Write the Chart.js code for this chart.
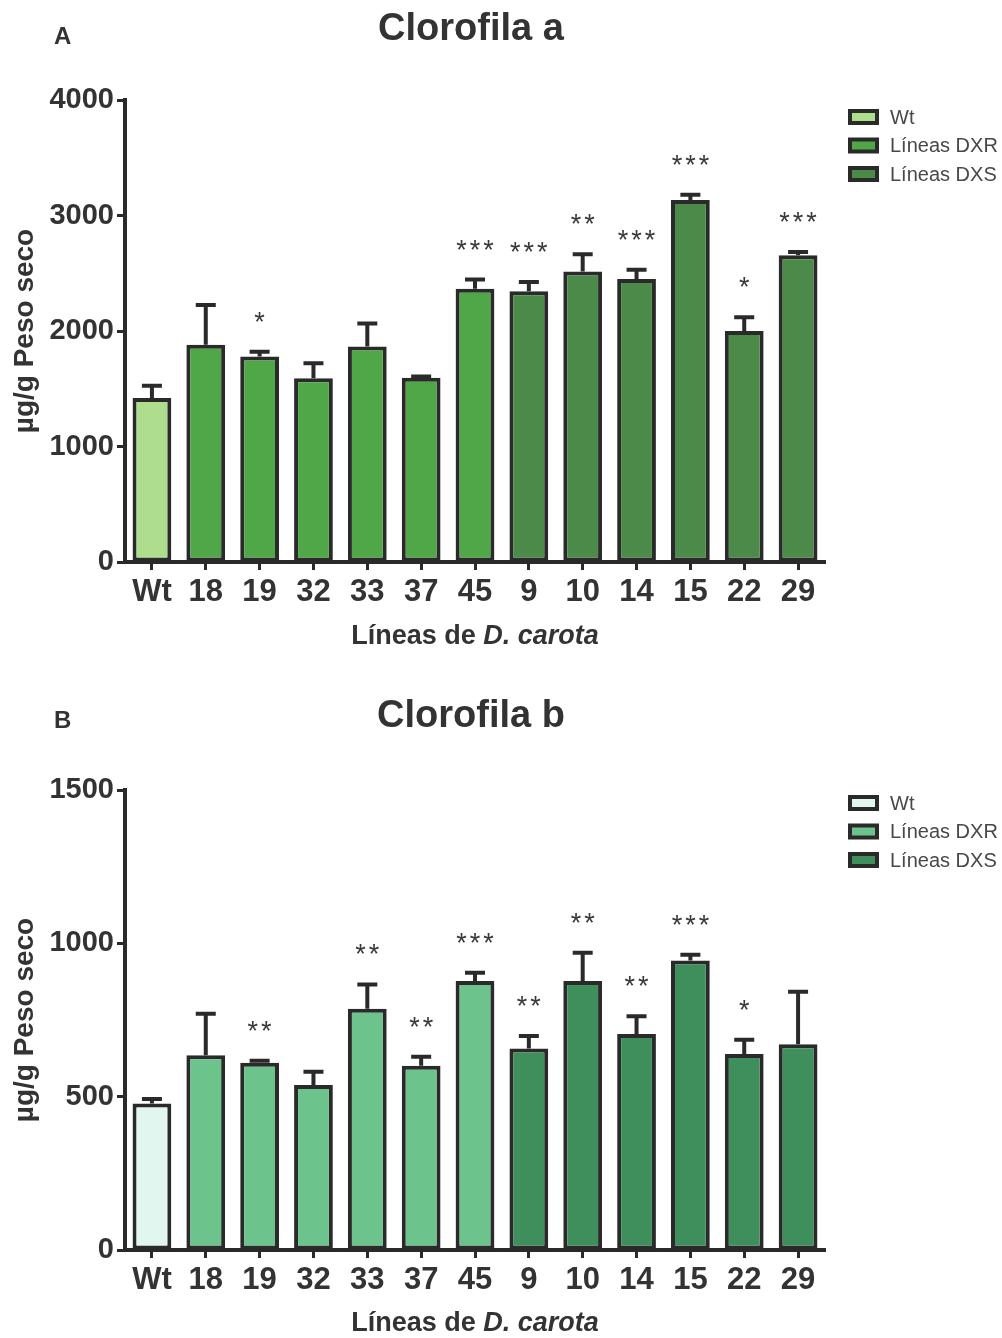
<!DOCTYPE html>
<html>
<head>
<meta charset="utf-8">
<script src="https://cdn.jsdelivr.net/npm/chart.js@4.4.1/dist/chart.umd.min.js"></script>
<style>
  body { margin: 0; background: #fff; }
  .panel { position: absolute; left: 0; width: 1002px; height: 669px; }
</style>
</head>
<body>
<div class="panel" style="top:0"><canvas id="chartA" width="1002" height="669"></canvas></div>
<div class="panel" style="top:669px"><canvas id="chartB" width="1002" height="669"></canvas></div>
<script>
// categories and groups
const lineas = ['Wt', '18', '19', '32', '33', '37', '45', '9', '10', '14', '15', '22', '29'];
const grupoDeLinea = [0, 1, 1, 1, 1, 1, 1, 2, 2, 2, 2, 2, 2];
const grupos = ['Wt', 'Líneas DXR', 'Líneas DXS'];

// Clorofila a (µg/g peso seco), mean + SEM
const clorofilaA = [1420, 1880, 1780, 1590, 1865, 1595, 2365, 2345, 2515, 2450, 3135, 2000, 2655];
const clorofilaAErr = [105, 345, 40, 130, 200, 10, 80, 80, 150, 80, 45, 120, 30];
const clorofilaASig = ['', '', '*', '', '', '', '***', '***', '**', '***', '***', '*', '***'];
const ticksA = [0, 1000, 2000, 3000, 4000];

// Clorofila b
const clorofilaB = [478, 635, 611, 538, 787, 601, 877, 657, 877, 704, 944, 639, 671];
const clorofilaBErr = [14, 135, 6, 43, 79, 29, 27, 41, 92, 58, 19, 47, 171];
const clorofilaBSig = ['', '', '**', '', '**', '**', '***', '**', '**', '**', '***', '*', ''];
const ticksB = [0, 500, 1000, 1500];

const coloresA = ['#aedd8d', '#50a748', '#4b8a49'];
const coloresB = ['#e2f6f0', '#6cc38b', '#3f8f5d'];

const INK = '#2a2a2a';
const TEXT = '#333333';
const FONT = '"Liberation Sans", Arial, sans-serif';

// error bars, asterisks, title, legend, axis title
const extrasPlugin = {
  id: 'extras',
  afterDatasetsDraw(chart, args, opts) {
    const ctx = chart.ctx;
    const xs = chart.scales.x, ys = chart.scales.y;
    ctx.save();
    for (let i = 0; i < opts.values.length; i++) {
      const x = xs.getPixelForValue(i);
      const y0 = ys.getPixelForValue(opts.values[i]);
      const y1 = ys.getPixelForValue(opts.values[i] + opts.err[i]);
      ctx.strokeStyle = INK;
      ctx.lineWidth = 4;
      ctx.beginPath();
      ctx.moveTo(x, y0);
      ctx.lineTo(x, y1);
      ctx.moveTo(x - 10, y1);
      ctx.lineTo(x + 10, y1);
      ctx.stroke();
      const n = opts.sig[i].length;
      ctx.fillStyle = '#3a3a3a';
      ctx.font = '27px ' + FONT;
      ctx.textAlign = 'center';
      ctx.textBaseline = 'alphabetic';
      for (let j = 0; j < n; j++) {
        ctx.fillText('*', x + (j - (n - 1) / 2) * 13.5, y1 - 37 + 16);
      }
    }
    ctx.restore();
  },
  afterDraw(chart, args, opts) {
    const ctx = chart.ctx;
    const area = chart.chartArea;
    ctx.save();
    ctx.fillStyle = TEXT;
    ctx.textBaseline = 'middle';
    // panel letter
    ctx.textAlign = 'left';
    ctx.font = 'bold 24px ' + FONT;
    ctx.fillText(opts.letter, 54, opts.letterY);
    // title
    ctx.textAlign = 'center';
    ctx.font = 'bold 38px ' + FONT;
    ctx.fillText(opts.title, 471, opts.titleY);
    // x axis title with italic species name
    const p1 = 'Líneas de ', p2 = 'D. carota';
    ctx.font = 'bold 27px ' + FONT;
    const w1 = ctx.measureText(p1).width;
    ctx.font = 'italic bold 27px ' + FONT;
    const w2 = ctx.measureText(p2).width;
    const cx = (area.left + area.right) / 2;
    let sx = cx - (w1 + w2) / 2;
    ctx.textAlign = 'left';
    ctx.font = 'bold 27px ' + FONT;
    ctx.fillText(p1, sx, opts.xTitleY);
    ctx.font = 'italic bold 27px ' + FONT;
    ctx.fillText(p2, sx + w1, opts.xTitleY);
    // legend
    ctx.font = '20px ' + FONT;
    chart.data.datasets.forEach((ds, k) => {
      const y = opts.legendY + k * 28.5;
      ctx.fillStyle = INK;
      ctx.fillRect(848, y - 8, 31, 16);
      ctx.fillStyle = ds.backgroundColor;
      ctx.fillRect(852, y - 4, 23, 8);
      ctx.fillStyle = '#484848';
      ctx.fillText(ds.label, 890, y + 1);
    });
    ctx.restore();
  }
};

function makeDatasets(values, colores) {
  return grupos.map((g, k) => ({
    label: g,
    data: values.map((v, i) => (grupoDeLinea[i] === k ? v : null)),
    backgroundColor: colores[k],
    borderColor: INK,
    borderWidth: 4,
    borderSkipped: false,
    barPercentage: 0.72,
    categoryPercentage: 1.0,
    grouped: false
  }));
}

function makeChart(id, values, err, sig, ticks, colores, lay) {
  return new Chart(document.getElementById(id), {
    type: 'bar',
    data: { labels: lineas, datasets: makeDatasets(values, colores) },
    plugins: [extrasPlugin],
    options: {
      responsive: false,
      animation: false,
      layout: { padding: { left: 0, right: 177, top: lay.top, bottom: 0 } },
      plugins: {
        legend: { display: false },
        tooltip: { enabled: false },
        extras: {
          values: values, err: err, sig: sig,
          letter: lay.letter, letterY: lay.letterY,
          title: lay.title, titleY: lay.titleY,
          xTitleY: lay.xTitleY, legendY: lay.legendY
        }
      },
      scales: {
        x: {
          afterFit(scale) { scale.height = lay.xHeight; },
          grid: { offset: false, drawOnChartArea: false, drawTicks: true, tickLength: 8, tickWidth: 3, tickColor: INK },
          border: { display: true, color: INK, width: 4 },
          ticks: { color: TEXT, font: { family: FONT, size: 31, weight: 'bold' }, padding: 4, maxRotation: 0, autoSkip: false }
        },
        y: {
          min: ticks[0],
          max: ticks[ticks.length - 1],
          afterFit(scale) { scale.width = 125; },
          afterBuildTicks(scale) { scale.ticks = ticks.map(v => ({ value: v })); },
          grid: { drawOnChartArea: false, drawTicks: true, tickLength: 8, tickWidth: 3, tickColor: INK },
          border: { display: true, color: INK, width: 4 },
          ticks: {
            color: TEXT, font: { family: FONT, size: 29, weight: 'bold' }, padding: 3,
            callback: v => String(v)
          },
          title: {
            display: true,
            text: 'µg/g Peso seco',
            color: TEXT,
            font: { family: FONT, size: 28, weight: 'bold' },
            padding: { top: 8, bottom: 0 }
          }
        }
      }
    }
  });
}

makeChart('chartA', clorofilaA, clorofilaAErr, clorofilaASig, ticksA, coloresA, {
  top: 100, xHeight: 107, letter: 'A', letterY: 37, title: 'Clorofila a', titleY: 30,
  xTitleY: 637, legendY: 117
});
makeChart('chartB', clorofilaB, clorofilaBErr, clorofilaBSig, ticksB, coloresB, {
  top: 121, xHeight: 88, letter: 'B', letterY: 52, title: 'Clorofila b', titleY: 48,
  xTitleY: 655, legendY: 134
});
</script>
</body>
</html>
